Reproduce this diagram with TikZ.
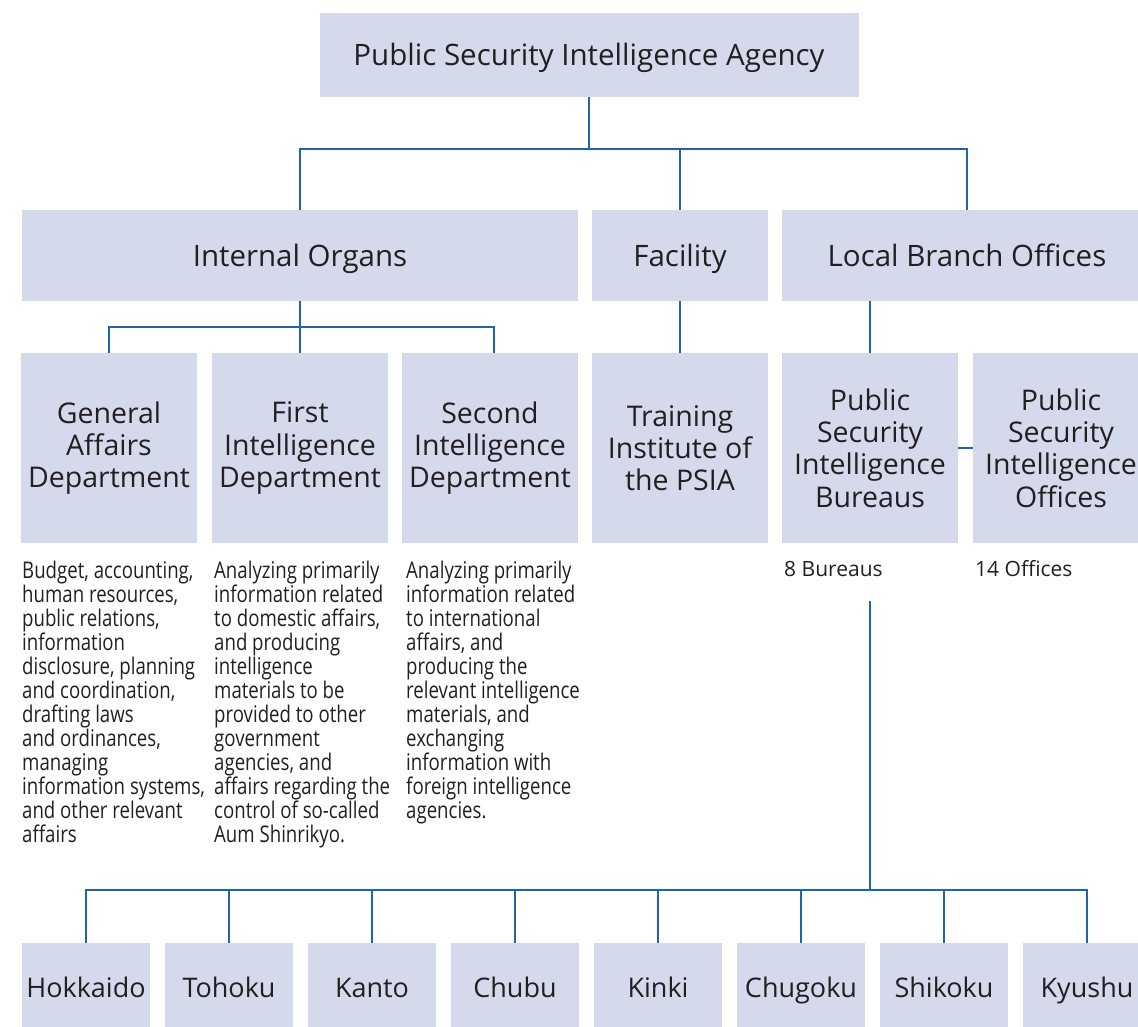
\documentclass[tikz,border=0pt]{standalone}
\usepackage{fontspec}
\setmainfont{Open Sans}
\newfontfamily\descfont[FakeStretch=0.81]{Open Sans}
\definecolor{boxfill}{HTML}{D4DAEC}
\definecolor{linkblue}{HTML}{1F64AC}
\definecolor{inkgray}{HTML}{231F20}
\tikzset{
    unit/.style={fill=boxfill, text=inkgray, inner sep=0, align=center},
    head/.style={unit, minimum height=91pt, text height=27pt, text depth=6pt, font=\fontsize{29.5}{34}\selectfont},
    dept/.style={unit, minimum width=176pt, minimum height=190pt, font=\fontsize{28.5}{32.3}\selectfont},
    region/.style={unit, minimum width=128pt, minimum height=90pt, text height=25pt, text depth=6pt, font=\fontsize{27}{32}\selectfont},
    link/.style={draw=linkblue, line width=2.2pt},
    note/.style={text=inkgray, inner sep=0, align=left, anchor=north west, font=\descfont\fontsize{23}{24}\selectfont},
    tally/.style={text=inkgray, inner sep=0, anchor=west, font=\fontsize{21}{24}\selectfont}
}
\begin{document}
\begin{tikzpicture}[x=1pt, y=-1pt]
    \useasboundingbox (0,0) rectangle (1138,1026);
    \node[head, minimum width=539pt, minimum height=84pt] (agency) at (589,55) {Public Security Intelligence Agency};
    \node[head, minimum width=556pt] (organs) at (300,255.5) {Internal Organs};
    \node[head, minimum width=176pt] (facility) at (680,255.5) {Facility};
    \node[head, minimum width=370pt] (branch) at (967,255.5) {Local Branch Offices};
    \node[dept] (general) at (109,448) {General\\Affairs\\Department};
    \node[dept] (first) at (300,448) {First\\Intelligence\\Department};
    \node[dept] (second) at (490,448) {Second\\Intelligence\\Department};
    \node[dept] (training) at (680,448) {Training\\Institute of\\the PSIA};
    \node[dept] (bureaus) at (870,448) {Public\\Security\\Intelligence\\Bureaus};
    \node[dept] (offices) at (1061,448) {Public\\Security\\Intelligence\\Offices};
    \node[note] (generalnote) at (22,561) {Budget, accounting,\\human resources,\\public relations,\\information\\disclosure, planning\\and coordination,\\drafting laws\\and ordinances,\\managing\\information systems,\\and other relevant\\affairs};
    \node[note] (firstnote) at (214,561) {Analyzing primarily\\information related\\to domestic affairs,\\and producing\\intelligence\\materials to be\\provided to other\\government\\agencies, and\\affairs regarding the\\control of so-called\\Aum Shinrikyo.};
    \node[note] (secondnote) at (406,561) {Analyzing primarily\\information related\\to international\\affairs, and\\producing the\\relevant intelligence\\materials, and\\exchanging\\information with\\foreign intelligence\\agencies.};
    \node[tally] (bureaucount) at (784,569) {8 Bureaus};
    \node[tally] (officecount) at (975,569) {14 Offices};
    \node[region] (hokkaido) at (86,988) {Hokkaido};
    \node[region] (tohoku) at (229,988) {Tohoku};
    \node[region] (kanto) at (372,988) {Kanto};
    \node[region] (chubu) at (515,988) {Chubu};
    \node[region] (kinki) at (658,988) {Kinki};
    \node[region] (chugoku) at (801,988) {Chugoku};
    \node[region] (shikoku) at (944,988) {Shikoku};
    \node[region] (kyushu) at (1087,988) {Kyushu};
    \coordinate (topbus) at (589,149);
    \coordinate (organbus) at (300,327);
    \coordinate (regtop) at (870,601);
    \coordinate (regbus) at (870,890);
    \draw[link] (agency.south) -- (topbus);
    \draw[link] (topbus) -| (organs.north);
    \draw[link] (topbus) -| (facility.north);
    \draw[link] (topbus) -| (branch.north);
    \draw[link] (organs.south) -- (first.north);
    \draw[link] (general.north) |- (organbus) -| ([xshift=4pt]second.north);
    \draw[link] (facility.south) -- (training.north);
    \draw[link] (bureaus.north |- branch.south) -- (bureaus.north);
    \draw[link] (bureaus.east) -- (offices.west);
    \draw[link] (regtop) -- (regbus);
    \draw[link] (regbus) -| (hokkaido.north);
    \draw[link] (regbus) -| (tohoku.north);
    \draw[link] (regbus) -| (kanto.north);
    \draw[link] (regbus) -| (chubu.north);
    \draw[link] (regbus) -| (kinki.north);
    \draw[link] (regbus) -| (chugoku.north);
    \draw[link] (regbus) -| (shikoku.north);
    \draw[link] (regbus) -| (kyushu.north);
\end{tikzpicture}
\end{document}
